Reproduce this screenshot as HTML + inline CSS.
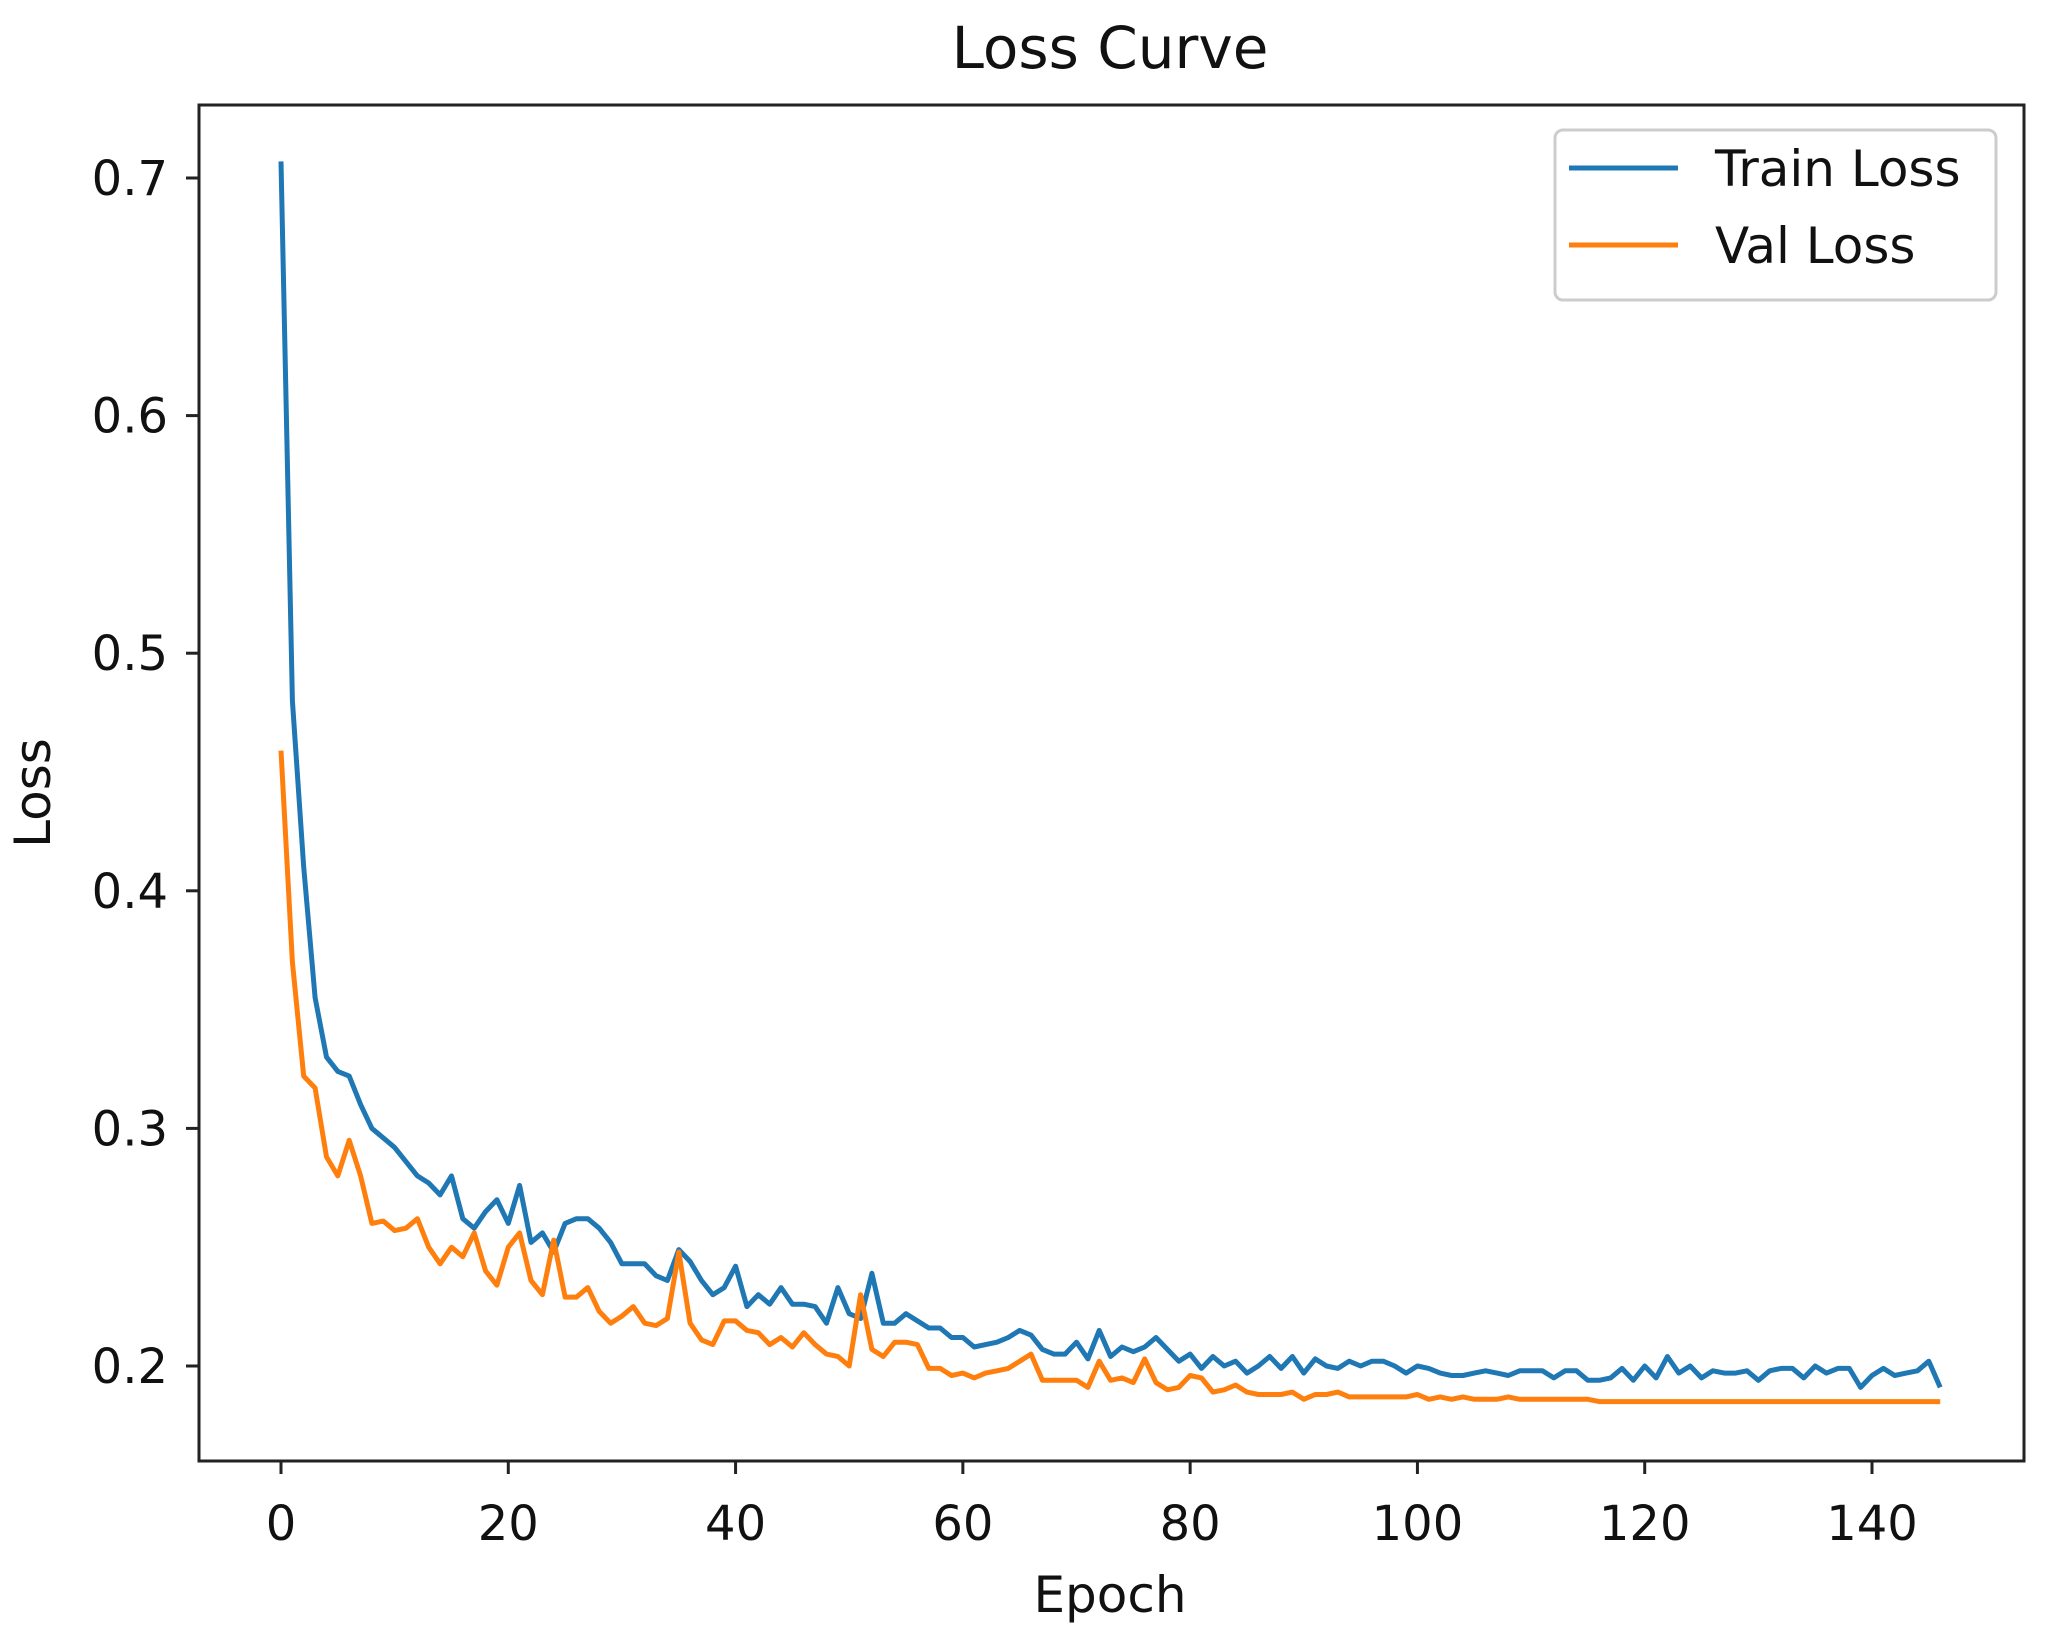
<!DOCTYPE html>
<html><head><meta charset="utf-8"><style>
html,body{margin:0;padding:0;background:#fff;}
svg{display:block;font-family:"DejaVu Sans","Liberation Sans",sans-serif;}
</style></head><body>
<svg id="chart" width="2046" height="1637" viewBox="0 0 2046 1637">
<rect x="0" y="0" width="2046" height="1637" fill="#fff"/>
<text x="1110" y="68" font-size="58" text-anchor="middle" fill="#111">Loss Curve</text>
<g id="plot"></g>
<rect x="199" y="105" width="1825" height="1356" fill="none" stroke="#222" stroke-width="3"/>
<g id="xticks"></g>
<g id="yticks"></g>
<text x="1110" y="1612" font-size="50" text-anchor="middle" fill="#111">Epoch</text>
<text transform="translate(50,793) rotate(-90)" font-size="50" text-anchor="middle" fill="#111">Loss</text>
<g>
<rect x="1555" y="130" width="441" height="170" rx="8" fill="#fff" stroke="#ccc" stroke-width="3"/>
<line x1="1569" y1="168" x2="1678" y2="168" stroke="#1f77b4" stroke-width="5"/>
<text x="1715" y="186" font-size="50" fill="#111">Train Loss</text>
<line x1="1569" y1="245" x2="1678" y2="245" stroke="#ff7f0e" stroke-width="5"/>
<text x="1715" y="263" font-size="50" fill="#111">Val Loss</text>
</g>
</svg>
<script>
const xTicks = [0,20,40,60,80,100,120,140];
const yTicks = [0.2,0.3,0.4,0.5,0.6,0.7];
const yTickLabels = ["0.2","0.3","0.4","0.5","0.6","0.7"];
const trainLoss = [0.707,0.48,0.41,0.355,0.33,0.324,0.322,0.31,0.30,0.296,0.292,0.286,0.28,0.277,0.272,0.28,0.262,0.258,0.265,0.27,0.26,0.276,0.252,0.256,0.248,0.26,0.262,0.262,0.258,0.252,0.243,0.243,0.243,0.238,0.236,0.249,0.244,0.236,0.23,0.233,0.242,0.225,0.23,0.226,0.233,0.226,0.226,0.225,0.218,0.233,0.222,0.22,0.239,0.218,0.218,0.222,0.219,0.216,0.216,0.212,0.212,0.208,0.209,0.21,0.212,0.215,0.213,0.207,0.205,0.205,0.21,0.203,0.215,0.204,0.208,0.206,0.208,0.212,0.207,0.202,0.205,0.199,0.204,0.2,0.202,0.197,0.2,0.204,0.199,0.204,0.197,0.203,0.2,0.199,0.202,0.2,0.202,0.202,0.2,0.197,0.2,0.199,0.197,0.196,0.196,0.197,0.198,0.197,0.196,0.198,0.198,0.198,0.195,0.198,0.198,0.194,0.194,0.195,0.199,0.194,0.2,0.195,0.204,0.197,0.2,0.195,0.198,0.197,0.197,0.198,0.194,0.198,0.199,0.199,0.195,0.2,0.197,0.199,0.199,0.191,0.196,0.199,0.196,0.197,0.198,0.202,0.191];
const valLoss = [0.459,0.37,0.322,0.317,0.288,0.28,0.295,0.28,0.26,0.261,0.257,0.258,0.262,0.25,0.243,0.25,0.246,0.256,0.24,0.234,0.25,0.256,0.236,0.23,0.253,0.229,0.229,0.233,0.223,0.218,0.221,0.225,0.218,0.217,0.22,0.248,0.218,0.211,0.209,0.219,0.219,0.215,0.214,0.209,0.212,0.208,0.214,0.209,0.205,0.204,0.2,0.23,0.207,0.204,0.21,0.21,0.209,0.199,0.199,0.196,0.197,0.195,0.197,0.198,0.199,0.202,0.205,0.194,0.194,0.194,0.194,0.191,0.202,0.194,0.195,0.193,0.203,0.193,0.19,0.191,0.196,0.195,0.189,0.19,0.192,0.189,0.188,0.188,0.188,0.189,0.186,0.188,0.188,0.189,0.187,0.187,0.187,0.187,0.187,0.187,0.188,0.186,0.187,0.186,0.187,0.186,0.186,0.186,0.187,0.186,0.186,0.186,0.186,0.186,0.186,0.186,0.185,0.185,0.185,0.185,0.185,0.185,0.185,0.185,0.185,0.185,0.185,0.185,0.185,0.185,0.185,0.185,0.185,0.185,0.185,0.185,0.185,0.185,0.185,0.185,0.185,0.185,0.185,0.185,0.185,0.185,0.185];

const NS = "http://www.w3.org/2000/svg";
function xScale(v){ return 281 + v * (1872 - 281) / 140; }
function yScale(v){ return 1366 - (v - 0.2) * 2376; }

const plot = document.getElementById('plot');
function drawLine(data, color, name){
  const p = document.createElementNS(NS, 'polyline');
  p.setAttribute('points', data.map((v,i)=>xScale(i).toFixed(1)+','+yScale(v).toFixed(1)).join(' '));
  p.setAttribute('fill','none');
  p.setAttribute('stroke',color);
  p.setAttribute('stroke-width','5');
  p.setAttribute('stroke-linejoin','round');
  
  
  plot.appendChild(p);
}
drawLine(trainLoss, '#1f77b4', 'train-loss-line');
drawLine(valLoss, '#ff7f0e', 'val-loss-line');

const xg = document.getElementById('xticks');
xTicks.forEach(t=>{
  const x = xScale(t);
  const l = document.createElementNS(NS,'line');
  l.setAttribute('x1',x); l.setAttribute('x2',x);
  l.setAttribute('y1',1461); l.setAttribute('y2',1474);
  l.setAttribute('stroke','#222'); l.setAttribute('stroke-width','3');
  
  
  xg.appendChild(l);
  const tx = document.createElementNS(NS,'text');
  tx.setAttribute('x',x); tx.setAttribute('y',1540);
  tx.setAttribute('font-size','48'); tx.setAttribute('text-anchor','middle'); tx.setAttribute('fill','#111');
  tx.textContent = String(t);
  
  
  xg.appendChild(tx);
});
const yg = document.getElementById('yticks');
yTicks.forEach((t,i)=>{
  const y = yScale(t);
  const l = document.createElementNS(NS,'line');
  l.setAttribute('x1',186); l.setAttribute('x2',199);
  l.setAttribute('y1',y); l.setAttribute('y2',y);
  l.setAttribute('stroke','#222'); l.setAttribute('stroke-width','3');
  
  
  yg.appendChild(l);
  const tx = document.createElementNS(NS,'text');
  tx.setAttribute('x',168); tx.setAttribute('y',y+17);
  tx.setAttribute('font-size','48'); tx.setAttribute('text-anchor','end'); tx.setAttribute('fill','#111');
  tx.textContent = yTickLabels[i];
  
  
  yg.appendChild(tx);
});
</script>
</body></html>
